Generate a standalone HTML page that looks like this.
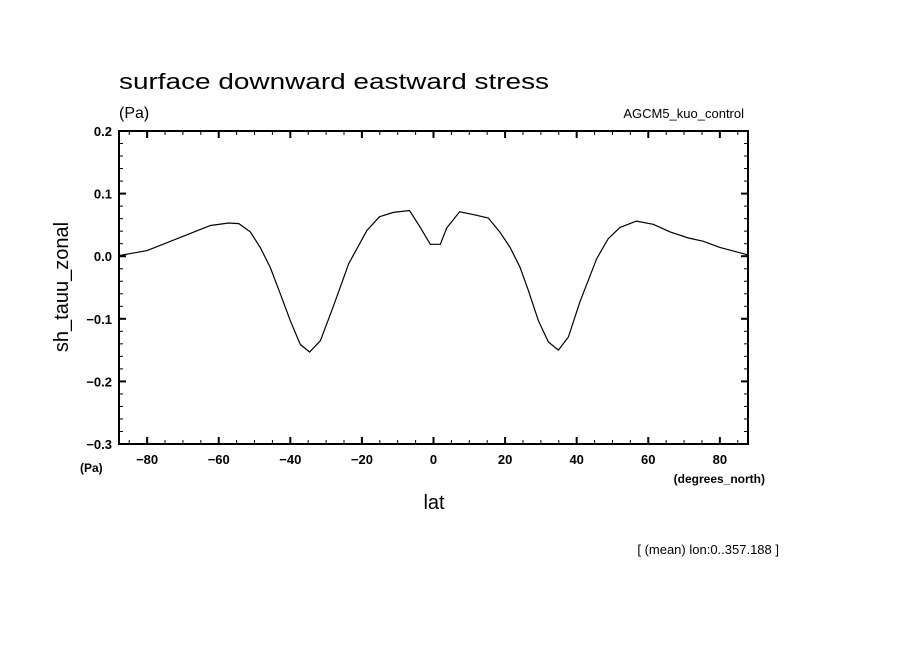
<!DOCTYPE html>
<html><head><meta charset="utf-8"><style>
body{margin:0;background:#fff}
svg{display:block}
text{font-family:"Liberation Sans",sans-serif;fill:#000}
</style></head><body>
<svg id="chart" width="904" height="654">
<text x="119" y="89" font-size="22" textLength="430" lengthAdjust="spacingAndGlyphs">surface downward eastward stress</text>
<text x="119" y="118" font-size="16">(Pa)</text>
<text x="744" y="118" font-size="13" text-anchor="end">AGCM5_kuo_control</text>
<text x="80" y="472" font-size="12" font-weight="bold">(Pa)</text>
<text x="765" y="483" font-size="12" font-weight="bold" text-anchor="end">(degrees_north)</text>
<text x="434" y="509" font-size="20" text-anchor="middle">lat</text>
<text x="68" y="287" font-size="20" text-anchor="middle" transform="rotate(-90 68 287)">sh_tauu_zonal</text>
<text x="779" y="554" font-size="13" text-anchor="end">[ (mean) lon:0..357.188 ]</text>
<g id="axes"></g>
<path id="line" fill="none" stroke="#000" stroke-width="1.2"></path>
<rect x="119" y="131" width="629" height="313" fill="none" stroke="#000" stroke-width="2"></rect>
</svg>
<script>
const lats=[-87.86,-80,-62.3,-57.2,-54.4,-51.2,-48.4,-45.6,-42.8,-40,-37.2,-34.6,-31.6,-27.9,-23.7,-18.6,-15.1,-11.2,-6.7,-3.7,-0.9,1.9,3.7,7.3,11.6,15.3,18.6,21.4,24.2,26.5,29.3,32.1,34.9,37.7,40.9,45.6,48.8,52.1,56.7,61.4,66,71.2,75.3,80,87.86];
const values=[0.001,0.009,0.049,0.053,0.052,0.039,0.014,-0.018,-0.060,-0.103,-0.141,-0.153,-0.135,-0.079,-0.012,0.041,0.063,0.070,0.073,0.046,0.019,0.019,0.045,0.071,0.066,0.061,0.038,0.014,-0.018,-0.055,-0.103,-0.137,-0.150,-0.129,-0.073,-0.004,0.028,0.046,0.056,0.051,0.039,0.029,0.024,0.014,0.002];
const xTicks=[-80,-60,-40,-20,0,20,40,60,80];
const yTicks=[0.2,0.1,0.0,-0.1,-0.2,-0.3];
const yTickLabels=["0.2","0.1","0.0","\u22120.1","\u22120.2","\u22120.3"];
const xTickLabels=["\u221280","\u221260","\u221240","\u221220","0","20","40","60","80"];
const X0=119,X1=748,Y0=131,Y1=444,xmin=-87.86,xmax=87.86,ymin=-0.3,ymax=0.2;
const sx=v=>X0+(v-xmin)/(xmax-xmin)*(X1-X0);
const sy=v=>Y1-(v-ymin)/(ymax-ymin)*(Y1-Y0);
const NS="http://www.w3.org/2000/svg";
const g=document.getElementById('axes');
function ln(x1,y1,x2,y2,w,name){const l=document.createElementNS(NS,'line');l.setAttribute('x1',x1);l.setAttribute('y1',y1);l.setAttribute('x2',x2);l.setAttribute('y2',y2);l.setAttribute('stroke','#000');l.setAttribute('stroke-width',w);


g.appendChild(l);}
function tx(x,y,s,anchor,name){const t=document.createElementNS(NS,'text');t.setAttribute('x',x);t.setAttribute('y',y);t.setAttribute('font-size','13');t.setAttribute('font-weight','bold');t.setAttribute('text-anchor',anchor);t.textContent=s;


g.appendChild(t);}
for(let v=-85;v<=85;v+=5){const x=sx(v);const major=v%20===0;const L=major?7:4;
ln(x,Y1,x,Y1-L,major?2:1,'x-tick');ln(x,Y0,x,Y0+L,major?2:1,'x-tick-top');}
for(let i=0;i<=25;i++){const v=-0.3+i*0.02;const y=sy(v);const major=i%5===0;const L=major?7:4;
ln(X0,y,X0+L,y,major?2:1,'y-tick');ln(X1,y,X1-L,y,major?2:1,'y-tick-right');}
xTicks.forEach((v,i)=>tx(sx(v),464,xTickLabels[i],'middle','x-tick-label'));
yTicks.forEach((v,i)=>tx(112,sy(v)+5,yTickLabels[i],'end','y-tick-label'));
document.getElementById('line').setAttribute('d',lats.map((a,i)=>(i?'L':'M')+sx(a).toFixed(1)+' '+sy(values[i]).toFixed(1)).join(' '));
</script>
</body></html>
